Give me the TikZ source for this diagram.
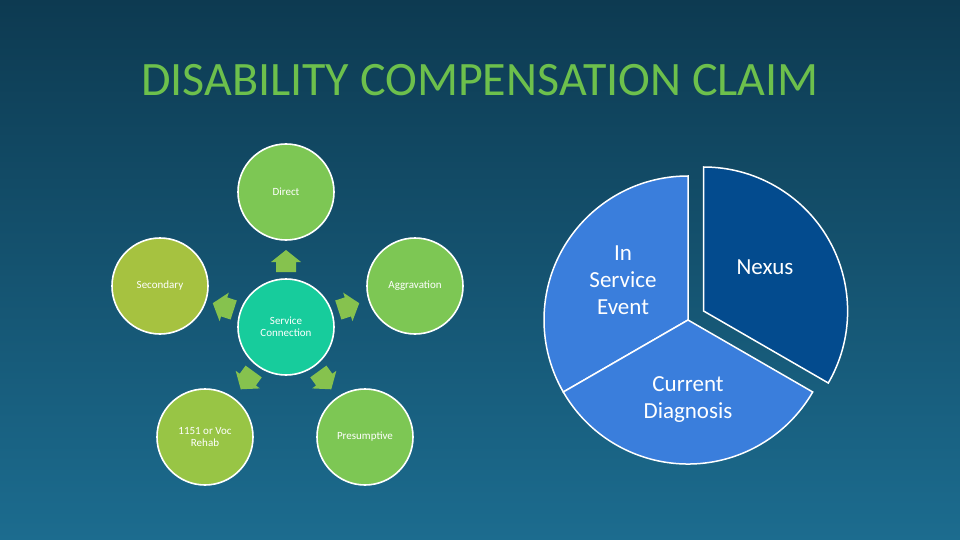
\documentclass[tikz,border=0pt]{standalone}
\usepackage{fontspec}
\setmainfont{Carlito}
\begin{document}
\begin{tikzpicture}[x=1pt,y=-1pt,
  circ/.style={circle,draw=white,line width=1.6pt,minimum size=96pt,inner sep=0pt,text=white,font=\fontsize{11}{12}\selectfont,align=center},
  slice/.style={draw=white,line width=1.5pt},
  pietext/.style={text=white,font=\fontsize{23}{27}\selectfont,align=center},
  arr/.style={fill=arrgreen}]
\definecolor{bgtop}{HTML}{0D3A51}
\definecolor{bgbot}{HTML}{1C6C8F}
\definecolor{titlegreen}{HTML}{6DC04C}
\definecolor{cgreen}{HTML}{7DC754}
\definecolor{cyell}{HTML}{A6C240}
\definecolor{cteal}{HTML}{17CC9C}
\definecolor{c1151}{HTML}{98C545}
\definecolor{arrgreen}{HTML}{86C24E}
\definecolor{pieblue}{HTML}{3A7EDC}
\definecolor{nexus}{HTML}{034B8E}
\useasboundingbox (0,0) rectangle (960,540);
\fill[top color=bgtop,bottom color=bgbot] (0,0) rectangle (960,540);
\node[text=titlegreen,font=\fontsize{48}{52}\selectfont] (title) at (480,80) {DISABILITY COMPENSATION CLAIM};
\node[circ,fill=cteal] (sc) at (286,327) {Service\\Connection};
\node[circ,fill=cgreen] (direct) at (286,192) {Direct};
\node[circ,fill=cyell] (second) at (160,286) {Secondary};
\node[circ,fill=cgreen] (aggr) at (415,286) {Aggravation};
\node[circ,fill=c1151] (voc) at (205,437) {1151 or Voc\\Rehab};
\node[circ,fill=cgreen] (pres) at (365,437) {Presumptive};
\foreach \a in {90,162,18,234,306}{
  \begin{scope}[shift={(sc.center)},rotate=\a,shift={(65,0)}]
   \fill[arr] (-10,-10) -- (0,-10) -- (0,-15) -- (12,0) -- (0,15) -- (0,10) -- (-10,10) -- cycle;
  \end{scope}}
\coordinate (pc) at (688,320);
\begin{scope}[shift={(pc)},yscale=-1]
\fill[pieblue,slice] (0,0) -- (90:144) arc[start angle=90,end angle=210,radius=144] -- cycle;
\fill[pieblue,slice] (0,0) -- (210:144) arc[start angle=210,end angle=330,radius=144] -- cycle;
\begin{scope}[shift={(30:18)}]
\fill[nexus,slice] (0,0) -- (330:144) arc[start angle=330,end angle=450,radius=144] -- cycle;
\end{scope}
\end{scope}
\node[pietext] (ise) at (623,280) {In\\Service\\Event};
\node[pietext] (nx) at (765,267) {Nexus};
\node[pietext] (cd) at (688,400) {Current\\Diagnosis};
\end{tikzpicture}
\end{document}
